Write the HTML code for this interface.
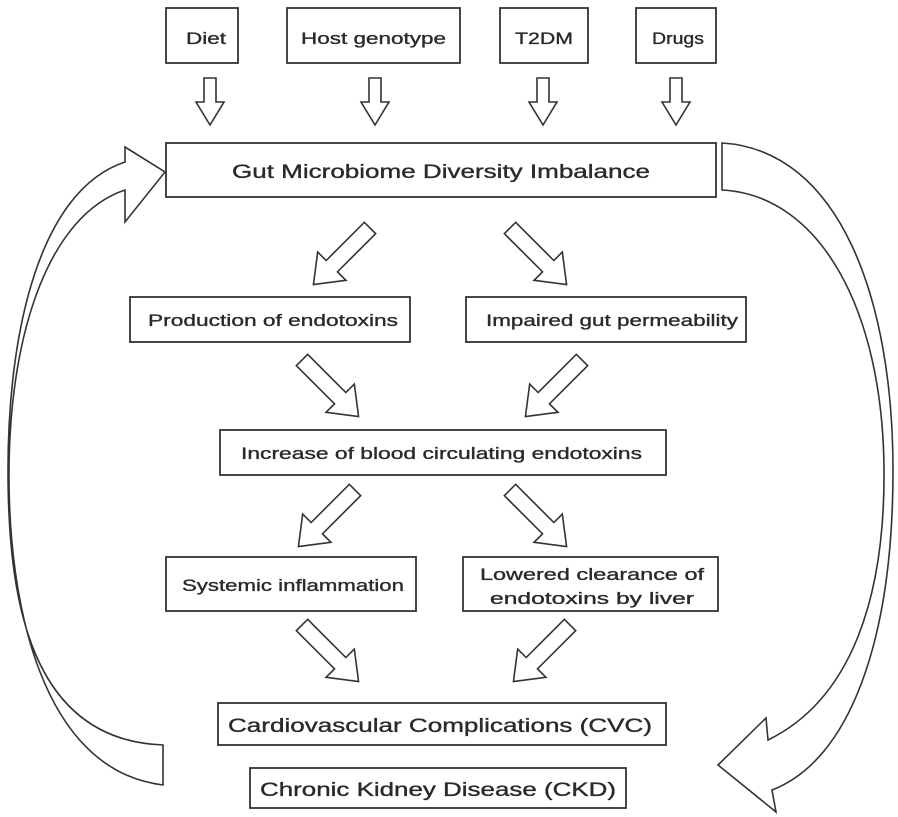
<!DOCTYPE html>
<html><head><meta charset="utf-8"><style>
html,body{margin:0;padding:0;background:#fff;}
svg{display:block;}
text{font-family:"Liberation Sans",sans-serif;fill:#2a2a2a;stroke:#2a2a2a;stroke-width:0.35;}
</style></head><body>
<svg width="898" height="817" viewBox="0 0 898 817" xmlns="http://www.w3.org/2000/svg">
<defs>
<polygon id="da" points="0,-8 54,-8 54,-20 80,0 54,20 54,8 0,8" fill="#fff" stroke="#333" stroke-width="1.6"/>
<polygon id="sa" points="-6,0 6,0 6,24 14,24 0,47 -14,24 -6,24" fill="#fff" stroke="#333" stroke-width="1.6"/>
</defs>
<g fill="#fff" stroke="#333" stroke-width="1.8">
<rect x="166" y="8" width="72" height="55"/>
<rect x="287" y="8" width="173" height="55"/>
<rect x="500" y="8" width="88" height="55"/>
<rect x="636" y="8" width="80" height="55"/>
<rect x="166" y="143" width="550" height="54"/>
<rect x="130" y="297" width="280" height="45"/>
<rect x="466" y="297" width="280" height="45"/>
<rect x="220" y="430" width="446" height="45"/>
<rect x="166" y="557" width="250" height="54"/>
<rect x="463" y="557" width="255" height="54"/>
<rect x="218" y="703" width="448" height="42"/>
<rect x="250" y="768" width="376" height="40"/>
</g>
<use href="#sa" x="210" y="78"/>
<use href="#sa" x="375" y="78"/>
<use href="#sa" x="543" y="78"/>
<use href="#sa" x="676" y="78"/>
<use href="#da" transform="translate(370,228) rotate(135)"/>
<use href="#da" transform="translate(510,228) rotate(45)"/>
<use href="#da" transform="translate(302,360) rotate(45)"/>
<use href="#da" transform="translate(582,360) rotate(135)"/>
<use href="#da" transform="translate(355,490) rotate(135)"/>
<use href="#da" transform="translate(510,490) rotate(45)"/>
<use href="#da" transform="translate(302,625) rotate(45)"/>
<use href="#da" transform="translate(570,625) rotate(135)"/>
<path d="M163,785 C40,770 8,600 9,470 C10,330 50,215 125,190 L125,222 L165,172 L125,147 L125,162 C40,190 8,330 8,470 C8,600 30,740 163,745 Z" fill="#fff" stroke="#333" stroke-width="1.6"/>
<path d="M722,143 C840,150 893,300 893,470 C893,640 850,760 772,790 L776,812 L718,765 L766,718 L768,740 C850,700 885,600 884,470 C883,310 820,195 722,190 Z" fill="#fff" stroke="#333" stroke-width="1.6"/>
<g font-size="17" lengthAdjust="spacingAndGlyphs">
<text x="186" y="44" textLength="40" lengthAdjust="spacingAndGlyphs">Diet</text>
<text x="301" y="44" textLength="145" lengthAdjust="spacingAndGlyphs">Host genotype</text>
<text x="515" y="44" textLength="58" lengthAdjust="spacingAndGlyphs">T2DM</text>
<text x="652" y="44" textLength="52" lengthAdjust="spacingAndGlyphs">Drugs</text>
<text x="232" y="178" font-size="19" textLength="418" lengthAdjust="spacingAndGlyphs">Gut Microbiome Diversity Imbalance</text>
<text x="148" y="326" textLength="250" lengthAdjust="spacingAndGlyphs">Production of endotoxins</text>
<text x="486" y="326" textLength="252" lengthAdjust="spacingAndGlyphs">Impaired gut permeability</text>
<text x="241" y="459" textLength="401" lengthAdjust="spacingAndGlyphs">Increase of blood circulating endotoxins</text>
<text x="182" y="591" textLength="222" lengthAdjust="spacingAndGlyphs">Systemic inflammation</text>
<text x="480" y="580" textLength="224" lengthAdjust="spacingAndGlyphs">Lowered clearance of</text>
<text x="490" y="604" textLength="204" lengthAdjust="spacingAndGlyphs">endotoxins by liver</text>
<text x="228" y="732" font-size="19" textLength="424" lengthAdjust="spacingAndGlyphs">Cardiovascular Complications (CVC)</text>
<text x="260" y="796" font-size="19" textLength="356" lengthAdjust="spacingAndGlyphs">Chronic Kidney Disease (CKD)</text>
</g>
</svg>
</body></html>
